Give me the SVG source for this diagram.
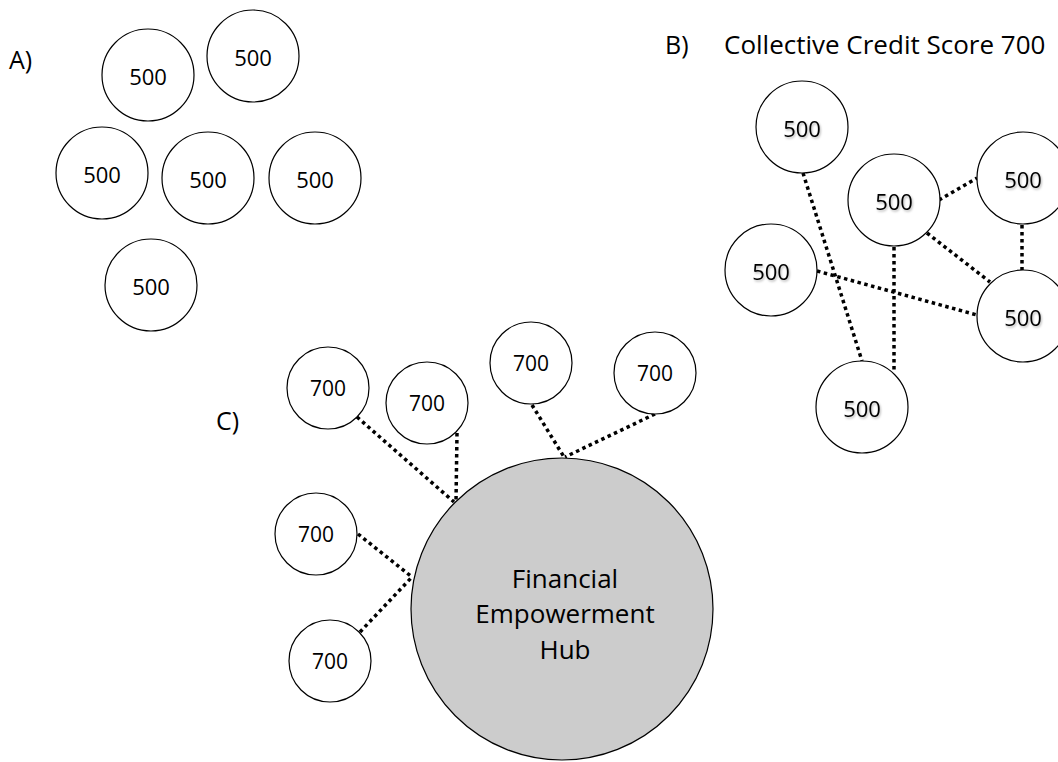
<svg xmlns="http://www.w3.org/2000/svg" width="1058" height="762" viewBox="0 0 1058 762">
  <style>
    .node { fill: #ffffff; stroke: #000000; stroke-width: 1.2; }
    .hub { fill: #cccccc; stroke: #000000; stroke-width: 1.2; }
    .num { font-family: "Open Sans", "Liberation Sans", sans-serif; font-size: 22px; fill: #000000; text-anchor: middle; }
    .num-s { font-family: "Open Sans", "Liberation Sans", sans-serif; font-size: 21px; fill: #000000; text-anchor: middle; }
    .label { font-family: "Open Sans", "Liberation Sans", sans-serif; font-size: 25px; fill: #000000; }
    .title { font-family: "Open Sans", "Liberation Sans", sans-serif; font-size: 26px; fill: #000000; }
    .hub-text { font-family: "Open Sans", "Liberation Sans", sans-serif; font-size: 26px; fill: #000000; text-anchor: middle; }
    .link { stroke: #000000; stroke-width: 3.5; stroke-dasharray: 3.5 3.5; fill: none; }
    .shadowed { filter: url(#soft); }
  </style>
  <defs>
    <filter id="soft" x="-20%" y="-20%" width="140%" height="140%">
      <feDropShadow dx="1" dy="1.5" stdDeviation="1" flood-color="#000000" flood-opacity="0.3"/>
    </filter>
  </defs>
  <rect width="1058" height="762" fill="#ffffff"/>

  <!-- Section labels -->
  <text class="label" x="9" y="69">A)</text>
  <text class="label" x="665" y="54">B)</text>
  <text class="title" x="724" y="54">Collective Credit Score 700</text>
  <text class="label" x="216" y="430">C)</text>

  <!-- A: isolated individuals -->
  <g id="a1"><circle class="node" cx="148" cy="75" r="46"/><text class="num" x="148" y="85">500</text></g>
  <g id="a2"><circle class="node" cx="253" cy="56" r="46"/><text class="num" x="253" y="66">500</text></g>
  <g id="a3"><circle class="node" cx="102" cy="173" r="46"/><text class="num" x="102" y="183">500</text></g>
  <g id="a4"><circle class="node" cx="208" cy="178" r="46"/><text class="num" x="208" y="188">500</text></g>
  <g id="a5"><circle class="node" cx="315" cy="178" r="46"/><text class="num" x="315" y="188">500</text></g>
  <g id="a6"><circle class="node" cx="151" cy="285" r="46"/><text class="num" x="151" y="295">500</text></g>

  <!-- Connectors -->
  <g id="connectors">
    <!-- B: peer network -->
    <line class="link" x1="803" y1="173" x2="862" y2="361"/>
    <line class="link" x1="894" y1="247" x2="894" y2="373"/>
    <line class="link" x1="939" y1="200" x2="977" y2="178"/>
    <line class="link" x1="927" y1="233" x2="990" y2="282"/>
    <line class="link" x1="1022" y1="225" x2="1022" y2="270"/>
    <line class="link" x1="817" y1="271" x2="977" y2="315"/>
    <!-- C: spokes to hub -->
    <line class="link" x1="357" y1="417" x2="454" y2="502"/>
    <line class="link" x1="457" y1="433" x2="456" y2="502"/>
    <line class="link" x1="532" y1="405" x2="564" y2="457"/>
    <line class="link" x1="655" y1="414" x2="565" y2="457"/>
    <line class="link" x1="358" y1="534" x2="412" y2="577"/>
    <line class="link" x1="360" y1="632" x2="412" y2="577"/>
  </g>

  <!-- B: connected group -->
  <g id="b1"><circle class="node" cx="802" cy="127" r="46"/><text class="num shadowed" x="802" y="137">500</text></g>
  <g id="b2"><circle class="node" cx="894" cy="200" r="46"/><text class="num shadowed" x="894" y="210">500</text></g>
  <g id="b3"><circle class="node" cx="1023" cy="178" r="46"/><text class="num shadowed" x="1023" y="188">500</text></g>
  <g id="b4"><circle class="node" cx="771" cy="270" r="46"/><text class="num shadowed" x="771" y="280">500</text></g>
  <g id="b5"><circle class="node" cx="1023" cy="316" r="46"/><text class="num shadowed" x="1023" y="326">500</text></g>
  <g id="b6"><circle class="node" cx="862" cy="407" r="46"/><text class="num shadowed" x="862" y="417">500</text></g>

  <!-- C: members around the hub -->
  <g id="c1"><circle class="node" cx="328" cy="388" r="41"/><text class="num-s" x="328" y="396">700</text></g>
  <g id="c2"><circle class="node" cx="427" cy="403" r="41"/><text class="num-s" x="427" y="411">700</text></g>
  <g id="c3"><circle class="node" cx="531" cy="363" r="41"/><text class="num-s" x="531" y="371">700</text></g>
  <g id="c4"><circle class="node" cx="655" cy="373" r="41"/><text class="num-s" x="655" y="381">700</text></g>
  <g id="c5"><circle class="node" cx="316" cy="534" r="41"/><text class="num-s" x="316" y="542">700</text></g>
  <g id="c6"><circle class="node" cx="330" cy="661" r="41"/><text class="num-s" x="330" y="669">700</text></g>

  <g id="hub">
    <circle class="hub" cx="562" cy="609" r="151"/>
    <text class="hub-text" x="565" y="588">Financial</text>
    <text class="hub-text" x="565" y="623">Empowerment</text>
    <text class="hub-text" x="565" y="659">Hub</text>
  </g>
</svg>
